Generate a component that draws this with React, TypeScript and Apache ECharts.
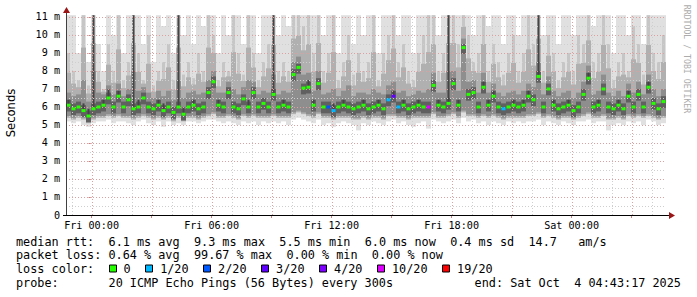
import React, { useEffect, useRef } from 'react';
import * as echarts from 'echarts';

// Time span: Thu 22:43:17 .. Sat 04:43:17, in hours relative to Fri 00:00
const START_H = -1.2786;
const END_H = 28.7214;
const STEP_H = 0.25;
const Y_MAX = 11.111;

// median rtt (ms) per 15-minute step
const MED = [
  6.1, 5.9, 6.0, 5.8, 5.5, 5.9, 6.0, 6.1, 6.5, 6.0,
  6.6, 6.0, 6.4, 5.9, 6.0, 6.5, 6.0, 5.9, 6.1, 5.8,
  6.0, 5.7, 6.0, 5.6, 6.0, 6.1, 5.9, 6.0, 6.8, 7.4,
  6.1, 6.0, 6.8, 6.0, 5.9, 6.45, 6.0, 6.8, 6.0, 6.2,
  6.0, 6.7, 6.0, 6.1, 6.0, 7.8, 8.2, 7.05, 7.1, 6.1,
  7.3, 6.0, 6.0, 5.8, 6.0, 6.1, 6.0, 5.9, 6.0, 6.1,
  5.9, 6.0, 6.1, 5.9, 6.4, 6.6, 6.0, 6.1, 5.9, 6.0,
  6.1, 6.0, 6.0, 7.2, 6.1, 6.0, 6.2, 7.3, 6.1, 9.3,
  6.7, 6.8, 6.0, 7.1, 6.1, 6.6, 6.0, 5.9, 6.0, 6.1,
  6.0, 6.1, 6.6, 6.4, 7.7, 6.0, 7.0, 6.1, 5.9, 6.0,
  6.1, 5.8, 6.0, 6.7, 7.6, 6.0, 6.1, 7.0, 6.0, 5.9,
  6.1, 5.9, 6.6, 6.0, 6.7, 6.0, 7.1, 6.2, 5.9, 6.3,
];

// loss class index per step (into LOSS_COLORS)
const LOSS = [
  0, 0, 0, 0, 0, 0, 0, 0, 0, 0,
  0, 0, 0, 0, 0, 0, 0, 0, 0, 0,
  0, 0, 0, 0, 0, 0, 0, 0, 0, 0,
  0, 0, 0, 0, 0, 0, 0, 0, 0, 0,
  0, 0, 0, 0, 0, 0, 0, 0, 0, 0,
  0, 0, 2, 1, 0, 0, 0, 0, 0, 0,
  0, 0, 0, 0, 1, 3, 1, 0, 0, 0,
  0, 0, 5, 0, 0, 0, 0, 0, 0, 0,
  0, 0, 0, 0, 0, 0, 0, 1, 0, 0,
  0, 0, 0, 0, 0, 0, 0, 0, 0, 0,
  0, 0, 0, 0, 0, 0, 0, 0, 0, 0,
  0, 0, 0, 0, 0, 0, 0, 0, 0, 0,
];

// smoke: lowest ping
const LO = [
  5.2, 5.1, 5.2, 5.0, 4.9, 5.1, 5.2, 5.2, 5.3, 5.1,
  5.2, 5.2, 5.1, 5.0, 5.2, 5.3, 5.1, 5.0, 5.2, 4.9,
  5.2, 5.0, 5.1, 5.0, 5.2, 5.2, 5.1, 5.2, 5.3, 5.3,
  5.2, 5.1, 5.2, 5.1, 5.0, 5.2, 5.1, 5.2, 5.0, 5.2,
  5.1, 5.2, 5.1, 5.2, 5.0, 5.3, 5.4, 5.3, 5.2, 5.1,
  5.3, 5.0, 5.1, 4.9, 5.1, 5.2, 5.1, 5.0, 4.7, 5.1,
  5.0, 5.2, 5.1, 5.0, 5.2, 5.3, 5.1, 5.2, 5.0, 4.9,
  5.1, 5.2, 4.8, 5.3, 5.2, 5.1, 5.2, 5.3, 5.1, 5.4,
  5.2, 5.3, 5.1, 5.2, 5.0, 5.2, 5.1, 5.0, 5.2, 5.1,
  5.2, 5.1, 5.2, 5.2, 5.3, 5.0, 5.2, 5.1, 5.0, 5.2,
  5.1, 5.0, 5.2, 5.2, 5.3, 5.1, 5.2, 5.2, 4.7, 5.0,
  5.1, 5.0, 5.2, 5.1, 5.2, 5.0, 5.3, 5.2, 5.0, 5.1,
];

// smoke: lower quartile
const Q1 = [
  5.5, 5.4, 5.5, 5.4, 5.2, 5.4, 5.5, 5.5, 5.6, 5.5,
  5.6, 5.5, 5.5, 5.4, 5.5, 5.6, 5.5, 5.4, 5.5, 5.4,
  5.5, 5.3, 5.5, 5.3, 5.5, 5.5, 5.4, 5.5, 5.6, 5.7,
  5.5, 5.5, 5.6, 5.5, 5.4, 5.6, 5.5, 5.6, 5.5, 5.5,
  5.5, 5.6, 5.5, 5.5, 5.5, 5.7, 5.8, 5.7, 5.6, 5.5,
  5.7, 5.5, 5.5, 5.4, 5.5, 5.5, 5.5, 5.4, 5.4, 5.5,
  5.4, 5.5, 5.5, 5.4, 5.6, 5.6, 5.5, 5.5, 5.4, 5.5,
  5.5, 5.5, 5.5, 5.7, 5.5, 5.5, 5.6, 5.7, 5.5, 5.8,
  5.6, 5.6, 5.5, 5.6, 5.5, 5.6, 5.5, 5.4, 5.5, 5.5,
  5.5, 5.5, 5.6, 5.6, 5.7, 5.5, 5.6, 5.5, 5.4, 5.5,
  5.5, 5.4, 5.5, 5.6, 5.7, 5.5, 5.5, 5.6, 5.4, 5.4,
  5.5, 5.4, 5.6, 5.5, 5.6, 5.5, 5.6, 5.5, 5.4, 5.5,
];

// smoke: upper quartile
const Q3 = [
  6.8, 6.6, 6.7, 7.5, 6.3, 8.0, 6.8, 6.7, 7.2, 6.7,
  7.3, 6.6, 7.0, 8.0, 6.9, 7.1, 6.8, 6.5, 6.9, 6.6,
  6.9, 6.4, 7.5, 6.5, 6.8, 6.9, 6.7, 6.8, 7.5, 8.0,
  6.8, 6.8, 7.4, 7.0, 6.7, 7.1, 7.5, 7.4, 6.7, 6.9,
  6.8, 7.8, 6.7, 6.9, 6.8, 8.5, 8.8, 7.8, 7.9, 6.9,
  8.0, 6.7, 6.8, 7.0, 6.6, 6.9, 7.2, 6.6, 6.8, 6.8,
  6.7, 7.0, 6.8, 6.7, 7.2, 7.4, 6.8, 6.9, 6.6, 6.7,
  6.9, 6.8, 7.0, 7.9, 6.8, 6.8, 8.0, 8.0, 6.9, 9.8,
  7.4, 7.5, 6.8, 7.9, 6.8, 7.3, 6.8, 6.6, 6.8, 6.9,
  6.7, 6.9, 7.3, 7.1, 8.5, 6.7, 7.7, 6.9, 6.6, 6.8,
  6.9, 6.5, 6.8, 7.4, 8.3, 6.7, 6.9, 7.8, 6.8, 6.6,
  6.9, 6.6, 7.3, 6.8, 7.4, 6.7, 7.8, 7.0, 6.6, 7.0,
];

// smoke: upper 90th-ish ping
const UP2 = [
  9.0, 8.0, 7.5, 11.1, 7.2, 11.1, 8.0, 7.0, 9.5, 8.0,
  11.1, 7.5, 8.5, 11.1, 9.0, 7.5, 10.0, 7.2, 8.0, 8.5,
  9.5, 7.5, 11.1, 7.8, 8.5, 7.6, 9.0, 8.0, 11.1, 10.0,
  7.5, 8.5, 8.0, 11.1, 9.0, 7.8, 11.1, 9.0, 7.5, 8.5,
  9.5, 11.1, 8.0, 8.5, 8.0, 11.1, 11.1, 10.5, 11.1, 9.0,
  11.1, 8.0, 9.0, 11.1, 7.5, 8.5, 10.0, 7.8, 9.0, 8.0,
  8.5, 11.1, 7.5, 9.0, 10.0, 11.1, 8.5, 9.5, 8.0, 7.5,
  9.0, 10.0, 11.1, 11.1, 8.0, 9.0, 11.1, 11.1, 9.5, 11.1,
  10.0, 8.5, 9.0, 11.1, 8.0, 9.5, 8.5, 7.8, 9.0, 10.0,
  8.0, 9.0, 11.1, 9.5, 11.1, 8.0, 10.0, 9.0, 7.5, 8.5,
  9.0, 8.0, 10.0, 9.5, 11.1, 8.5, 9.0, 11.1, 9.5, 7.5,
  8.5, 9.0, 8.0, 10.5, 9.5, 7.8, 11.1, 9.0, 8.5, 10.0,
];

// smoke: highest ping (clipped at top of graph)
const HI = [
  11.1, 11.1, 9.0, 11.1, 8.5, 11.1, 9.5, 8.0, 11.1, 10.0,
  11.1, 9.0, 11.1, 11.1, 11.1, 9.5, 11.1, 8.5, 11.1, 10.5,
  11.1, 9.0, 11.1, 10.0, 11.1, 9.5, 11.1, 10.5, 11.1, 11.1,
  9.0, 11.1, 10.0, 11.1, 11.1, 9.5, 11.1, 11.1, 9.0, 11.1,
  11.1, 11.1, 10.0, 11.1, 10.5, 11.1, 11.1, 11.1, 11.1, 11.1,
  11.1, 10.0, 11.1, 11.1, 9.0, 11.1, 11.1, 9.5, 11.1, 10.0,
  11.1, 11.1, 9.0, 11.1, 11.1, 11.1, 10.0, 11.1, 11.1, 9.0,
  11.1, 11.1, 11.1, 11.1, 10.0, 11.1, 11.1, 11.1, 11.1, 11.1,
  11.1, 10.0, 11.1, 11.1, 10.5, 11.1, 11.1, 9.5, 11.1, 11.1,
  10.0, 11.1, 11.1, 11.1, 11.1, 10.0, 11.1, 11.1, 9.5, 11.1,
  11.1, 10.0, 11.1, 11.1, 11.1, 10.5, 11.1, 11.1, 11.1, 9.0,
  11.1, 11.1, 10.0, 11.1, 11.1, 9.5, 11.1, 11.1, 11.1, 11.1,
];

// dark core top (spikes where many pings were slow)
const DK = [
  6.4, 6.2, 6.3, 6.2, 5.9, 11.1, 6.3, 6.4, 7.0, 6.3,
  6.9, 6.3, 6.7, 11.1, 6.4, 6.8, 6.3, 6.2, 6.4, 6.2,
  6.3, 6.0, 11.1, 6.0, 6.3, 6.4, 6.2, 6.3, 7.1, 7.7,
  6.4, 6.3, 7.1, 6.3, 6.2, 6.7, 6.4, 7.1, 6.3, 6.5,
  6.3, 11.1, 6.3, 6.4, 6.3, 8.1, 8.4, 7.3, 7.5, 6.4,
  7.6, 6.3, 6.3, 6.2, 6.3, 6.4, 6.3, 6.2, 6.3, 6.4,
  6.2, 6.3, 6.4, 6.2, 6.7, 6.9, 6.3, 6.4, 6.2, 6.3,
  6.4, 6.3, 6.3, 7.5, 6.4, 6.3, 11.1, 7.6, 6.4, 9.5,
  7.0, 7.1, 6.3, 7.4, 6.4, 6.9, 6.3, 6.2, 6.3, 6.4,
  6.3, 6.4, 6.9, 6.7, 11.1, 6.3, 7.3, 6.4, 6.2, 6.3,
  6.4, 6.1, 6.3, 7.0, 7.9, 6.3, 6.4, 7.3, 6.3, 6.2,
  6.4, 6.2, 6.9, 6.3, 7.0, 6.3, 7.4, 6.5, 6.2, 6.6,
];

const LOSS_COLORS = ['#26ff00', '#00b8ff', '#0059ff', '#5e00ff', '#7e00ff', '#dd00ff', '#ff0000'];
const LOSS_LABELS = ['0', '1/20', '2/20', '3/20', '4/20', '10/20', '19/20'];

const X_LABEL_HOURS = [0, 6, 12, 18, 24];
const X_LABELS = ['Fri 00:00', 'Fri 06:00', 'Fri 12:00', 'Fri 18:00', 'Sat 00:00'];
const X_MAJOR_HOURS = [0, 3, 6, 9, 12, 15, 18, 21, 24, 27];
const Y_LABEL_VALUES = [0, 1, 2, 3, 4, 5, 6, 7, 8, 9, 10, 11];
const Y_LABELS = ['0', '1 m', '2 m', '3 m', '4 m', '5 m', '6 m', '7 m', '8 m', '9 m', '10 m', '11 m'];

const LEGEND_RTT = 'median rtt:  6.1 ms avg  9.3 ms max  5.5 ms min  6.0 ms now  0.4 ms sd  14.7   am/s';
const LEGEND_LOSS = 'packet loss: 0.64 % avg  99.67 % max  0.00 % min  0.00 % now';
const LEGEND_COLOR = 'loss color:';
const LEGEND_PROBE = 'probe:       20 ICMP Echo Pings (56 Bytes) every 300s';
const LEGEND_END = 'end: Sat Oct  4 04:43:17 2025';
const UNIT_TITLE = 'Seconds';
const WATERMARK = 'RRDTOOL / TOBI OETIKER';

const MONO = "'DejaVu Sans Mono', monospace";
const SANS = "'DejaVu Sans', sans-serif";
const LEG_SIZE = 11.82;
const PITCH = LEG_SIZE * 0.6021;
const AXIS_SIZE = 10.15;

const GRID = { left: 66, top: 15, width: 600, height: 200 };

function segments(str: string) {
  const out: { text: string; col: number }[] = [];
  const re = /\S+(?: \S+)*/g;
  let m: RegExpExecArray | null;
  while ((m = re.exec(str))) out.push({ text: m[0], col: m.index });
  return out;
}

export default function App() {
  const ref = useRef<HTMLDivElement>(null);

  useEffect(() => {
    const chart = echarts.init(ref.current!, null, { renderer: 'svg' });

    const smokeData = MED.map((m, i) => [
      START_H + (i + 0.5) * STEP_H, LO[i], Q1[i], Q3[i], UP2[i], HI[i], m, DK[i],
    ]);
    const medData = MED.map((m, i) => [START_H + (i + 0.5) * STEP_H, m, LOSS[i]]);

    const renderSmoke = (_p: any, api: any) => {
      const t = api.value(0);
      const w = api.size([STEP_H, 0])[0];
      const rect = (a: number, b: number, fill: string, width: number, dx = 0) => {
        const top = api.coord([t, b]);
        const bot = api.coord([t, a]);
        return {
          type: 'rect',
          shape: { x: top[0] - w / 2 + dx, y: top[1], width, height: bot[1] - top[1] },
          style: { fill },
        };
      };
      const lo = api.value(1), q1 = api.value(2), q3 = api.value(3), up2 = api.value(4);
      const hi = api.value(5), med = api.value(6), dk = api.value(7);
      const children: any[] = [
        rect(lo, hi, '#e0e0e0', w),
        rect(q1, up2, '#c6c6c6', w - 2, 1),
        rect(q1 - 0.1, (q3 + up2) / 2, '#b0b0b0', w),
        rect(q1, q3, '#8e8e8e', w),
        rect(med - 0.35, Math.min(dk, med + 0.3), '#606060', w),
      ];
      if (dk > med + 0.3) children.push(rect(med, dk, '#454545', 2, 1.5));
      return { type: 'group', children };
    };

    const renderMedian = (_p: any, api: any) => {
      const p = api.coord([api.value(0), api.value(1)]);
      return {
        type: 'rect',
        shape: { x: p[0] - 2, y: p[1] - 1.5, width: 4, height: 3 },
        style: { fill: LOSS_COLORS[api.value(2)] },
      };
    };

    chart.setOption({
      animation: false,
      backgroundColor: '#ffffff',
      grid: { ...GRID },
      xAxis: {
        type: 'value',
        min: START_H,
        max: END_H,
        axisLine: { show: false },
        splitLine: { show: false },
        axisTick: { show: true, customValues: X_MAJOR_HOURS, length: 3, lineStyle: { color: '#c88080' } },
        axisLabel: {
          customValues: X_LABEL_HOURS,
          formatter: (v: number) => X_LABELS[X_LABEL_HOURS.indexOf(v)] ?? '',
          fontFamily: MONO,
          fontSize: AXIS_SIZE,
          color: '#000',
          margin: 5,
        },
      },
      yAxis: {
        type: 'value',
        min: 0,
        max: Y_MAX,
        axisLine: { show: false },
        splitLine: { show: false },
        axisTick: { show: true, customValues: Y_LABEL_VALUES, length: 3, lineStyle: { color: '#c88080' } },
        axisLabel: {
          customValues: Y_LABEL_VALUES,
          formatter: (v: number) => Y_LABELS[Y_LABEL_VALUES.indexOf(v)] ?? '',
          fontFamily: MONO,
          fontSize: AXIS_SIZE,
          color: '#000',
          margin: 6,
        },
      },
      series: [
        { type: 'custom', renderItem: renderSmoke, data: smokeData, encode: { x: 0, y: 6 }, z: 1, silent: true },
        { type: 'custom', renderItem: renderMedian, data: medData, encode: { x: 0, y: 1 }, z: 5, silent: true },
      ],
    });

    const toPx = (x: number, y: number) => chart.convertToPixel({ gridIndex: 0 }, [x, y]) as number[];
    const x0 = GRID.left, x1 = GRID.left + GRID.width;
    const yTop = GRID.top, yBot = GRID.top + GRID.height;
    const els: any[] = [];

    // vertical grid: every hour, major every 3 hours
    for (let h = Math.ceil(START_H); h <= Math.floor(END_H); h++) {
      const x = Math.round(toPx(h, 0)[0]) + 0.5;
      const major = X_MAJOR_HOURS.includes(h);
      els.push({
        type: 'line', z: 3, silent: true,
        shape: { x1: x, y1: yBot, x2: x, y2: yTop },
        style: { stroke: major ? '#dca0a0' : '#cfcfcf', lineWidth: 1, lineDash: [1, 2] },
      });
    }
    // horizontal grid: every 0.5 ms, major at whole ms
    for (let k = 1; k <= 22; k++) {
      const v = k / 2;
      const y = Math.round(toPx(0, v)[1]) + 0.5;
      const major = k % 2 === 0;
      els.push({
        type: 'line', z: 3, silent: true,
        shape: { x1: x0, y1: y, x2: x1, y2: y },
        style: { stroke: major ? '#dca0a0' : '#cfcfcf', lineWidth: 1, lineDash: [1, 2] },
      });
    }

    // axis lines and arrows
    els.push({ type: 'line', z: 6, silent: true, shape: { x1: x0 + 0.5, y1: yBot, x2: x0 + 0.5, y2: yTop - 4 }, style: { stroke: '#404040', lineWidth: 1 } });
    els.push({ type: 'line', z: 6, silent: true, shape: { x1: x0 - 3, y1: yBot + 0.5, x2: x1 + 3, y2: yBot + 0.5 }, style: { stroke: '#000', lineWidth: 1 } });
    els.push({ type: 'polygon', z: 7, silent: true, shape: { points: [[x0 - 3, yTop - 2], [x0 + 4, yTop - 2], [x0 + 0.5, yTop - 8]] }, style: { fill: '#9a1515' } });
    els.push({ type: 'polygon', z: 7, silent: true, shape: { points: [[x1 + 3, yBot - 3], [x1 + 3, yBot + 4], [x1 + 9, yBot + 0.5]] }, style: { fill: '#9a1515' } });

    const txt = (text: string, x: number, y: number, extra: any = {}) => ({
      type: 'text', z: 8, silent: true, x, y,
      style: { text, fontFamily: MONO, fontSize: LEG_SIZE, fill: '#000', align: 'left', verticalAlign: 'middle', ...extra },
    });

    // unit title and watermark
    els.push({
      type: 'text', z: 8, silent: true, x: 11, y: 113, rotation: Math.PI / 2,
      style: { text: UNIT_TITLE, fontFamily: SANS, fontSize: 11.6, fill: '#000', align: 'center', verticalAlign: 'middle' },
    });
    els.push({
      type: 'text', z: 8, silent: true, x: 687, y: 59, rotation: -Math.PI / 2,
      style: { text: WATERMARK, fontFamily: MONO, fontSize: 8.2, fill: '#acacac', align: 'center', verticalAlign: 'middle' },
    });

    // legend lines
    const LX = 16;
    const lineY = [241.5, 255.2, 269, 282.7];
    [LEGEND_RTT, LEGEND_LOSS].forEach((s, li) => {
      segments(s).forEach((sg) => els.push(txt(sg.text, LX + sg.col * PITCH, lineY[li])));
    });
    els.push(txt(LEGEND_COLOR, LX, lineY[2]));
    let bx = LX + 13 * PITCH;
    LOSS_LABELS.forEach((lab, i) => {
      els.push({
        type: 'rect', z: 8, silent: true,
        shape: { x: Math.round(bx) + 0.5, y: lineY[2] - 4, width: 7, height: 7 },
        style: { fill: LOSS_COLORS[i], stroke: '#000', lineWidth: 1 },
      });
      const tx = bx + 15;
      els.push(txt(lab, tx, lineY[2]));
      bx = tx + lab.length * PITCH + 14.5;
    });
    segments(LEGEND_PROBE).forEach((sg) => els.push(txt(sg.text, LX + sg.col * PITCH, lineY[3])));
    const endStart = 681 - LEGEND_END.length * PITCH;
    segments(LEGEND_END).forEach((sg) => els.push(txt(sg.text, endStart + sg.col * PITCH, lineY[3])));

    chart.setOption({ graphic: { elements: els } });

    return () => chart.dispose();
  }, []);

  return (
    <div
      ref={ref}
      style={{ position: 'fixed', left: 0, top: 0, width: 697, height: 297, background: '#ffffff' }}
    />
  );
}
